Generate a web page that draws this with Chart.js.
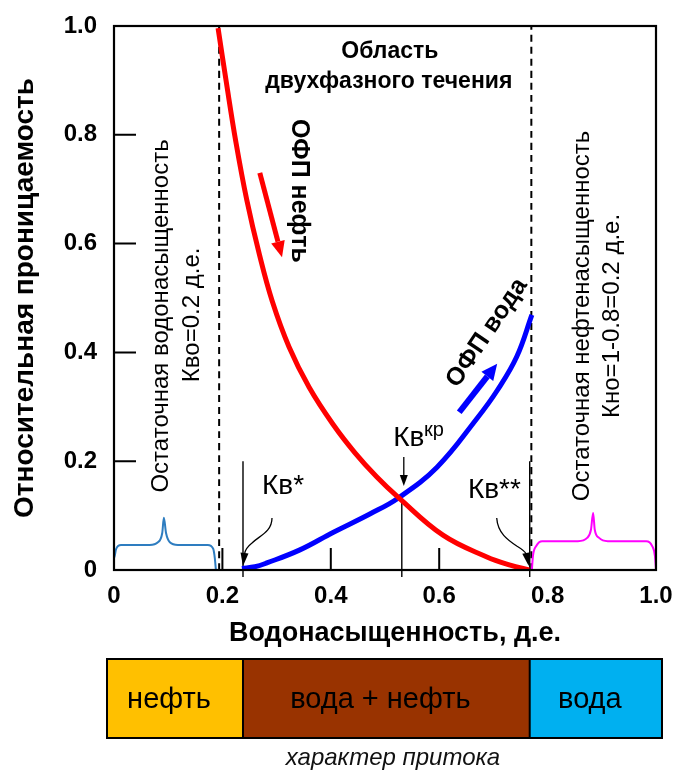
<!DOCTYPE html>
<html>
<head>
<meta charset="utf-8">
<script src="https://cdn.jsdelivr.net/npm/chart.js@4.4.0/dist/chart.umd.min.js"></script>
<style>
  html, body { margin: 0; padding: 0; background: #ffffff; }
  canvas { display: block; }
</style>
</head>
<body>
<canvas id="kr" width="675" height="771"></canvas>
<script>
// Relative permeability of oil (red) vs water saturation, fraction
const oilSw = [0.192, 0.207, 0.225, 0.245, 0.268, 0.292, 0.323, 0.360, 0.404, 0.445, 0.485, 0.524, 0.607, 0.688, 0.731, 0.766];
const oilKr = [0.996, 0.898, 0.786, 0.680, 0.581, 0.494, 0.410, 0.336, 0.268, 0.215, 0.171, 0.134, 0.064, 0.024, 0.009, 0.000];

// Relative permeability of water (blue) vs water saturation, fraction
const waterSw = [0.236, 0.260, 0.282, 0.343, 0.404, 0.472, 0.524, 0.596, 0.670, 0.707, 0.743, 0.771];
const waterKr = [0.003, 0.006, 0.013, 0.037, 0.069, 0.103, 0.132, 0.189, 0.279, 0.330, 0.392, 0.469];

// Curly brace under the irreducible water zone
const swcBraceX = [0.000, 0.000, 0.004, 0.013, 0.066, 0.081, 0.089, 0.092, 0.096, 0.103, 0.118, 0.173, 0.183, 0.186, 0.188];
const swcBraceY = [0.000, 0.022, 0.039, 0.046, 0.046, 0.051, 0.068, 0.096, 0.068, 0.051, 0.046, 0.046, 0.039, 0.022, 0.000];

// Curly brace under the residual oil zone
const sorBraceX = [0.771, 0.773, 0.779, 0.790, 0.856, 0.873, 0.880, 0.884, 0.887, 0.895, 0.911, 0.982, 0.993, 0.998, 1.000];
const sorBraceY = [0.000, 0.026, 0.044, 0.053, 0.053, 0.059, 0.074, 0.105, 0.074, 0.059, 0.053, 0.053, 0.044, 0.026, 0.000];

// Boundaries of the two-phase flow region (dashed verticals)
const twoPhaseBounds = [0.194, 0.770];

// Characteristic saturations: Кв*, Кв кр, Кв**
const markerSw  = [0.238, 0.531, 0.767];
const markerTop = [0.200, 0.125, 0.200];

// Axis tick labels
const tickLabels = ['0', '0.2', '0.4', '0.6', '0.8', '1.0'];

// Inflow character along the saturation range
const inflowNames = ['нефть', 'вода + нефть', 'вода'];

const FF = '"Liberation Sans", Arial, "DejaVu Sans", sans-serif';
const toXY = (xs, ys) => xs.map((x, i) => ({ x, y: ys[i] }));

function drawText(ctx, str, x, y, font, opts = {}) {
  ctx.save();
  ctx.translate(x, y);
  ctx.rotate(opts.rot || 0);
  ctx.font = font;
  ctx.fillStyle = opts.color || '#000';
  ctx.textAlign = opts.align || 'center';
  ctx.textBaseline = opts.baseline || 'middle';
  ctx.fillText(str, 0, 0);
  ctx.restore();
}

function thickArrow(ctx, x0, y0, x1, y1, color, w, headLen, headW) {
  const a = Math.atan2(y1 - y0, x1 - x0);
  const bx = x1 - headLen * Math.cos(a), by = y1 - headLen * Math.sin(a);
  ctx.save();
  ctx.strokeStyle = color; ctx.lineWidth = w; ctx.lineCap = 'butt';
  ctx.beginPath(); ctx.moveTo(x0, y0); ctx.lineTo(bx, by); ctx.stroke();
  ctx.fillStyle = color;
  ctx.beginPath();
  ctx.moveTo(x1, y1);
  ctx.lineTo(bx + headW / 2 * Math.sin(a), by - headW / 2 * Math.cos(a));
  ctx.lineTo(bx - headW / 2 * Math.sin(a), by + headW / 2 * Math.cos(a));
  ctx.closePath(); ctx.fill();
  ctx.restore();
}

function arrowHead(ctx, bx, by, tx, ty, headW) {
  const a = Math.atan2(ty - by, tx - bx);
  ctx.beginPath();
  ctx.moveTo(tx, ty);
  ctx.lineTo(bx + headW / 2 * Math.sin(a), by - headW / 2 * Math.cos(a));
  ctx.lineTo(bx - headW / 2 * Math.sin(a), by + headW / 2 * Math.cos(a));
  ctx.closePath(); ctx.fill();
}

const annotations = {
  id: 'annotations',
  afterDraw(chart) {
    const { ctx, chartArea: ca, scales: { x, y } } = chart;
    const P = (xv, yv) => [x.getPixelForValue(xv), y.getPixelForValue(yv)];

    // Frame
    ctx.save();
    ctx.strokeStyle = '#000'; ctx.lineWidth = 2.2;
    ctx.strokeRect(ca.left, ca.top, ca.right - ca.left, ca.bottom - ca.top);

    // Inward tick marks
    ctx.lineWidth = 2;
    ctx.beginPath();
    [0.2, 0.4, 0.6, 0.8].forEach(v => {
      const py = y.getPixelForValue(v);
      ctx.moveTo(ca.left, py); ctx.lineTo(ca.left + 22, py);
    });
    [0.2, 0.4, 0.6].forEach(v => {
      const px = x.getPixelForValue(v);
      ctx.moveTo(px, ca.bottom); ctx.lineTo(px, ca.bottom - 22);
    });
    ctx.stroke();
    ctx.restore();

    // Region captions
    const bold23 = 'bold 23px ' + FF;
    let p = P(0.509, 0.952); drawText(ctx, 'Область', p[0], p[1], bold23);
    p = P(0.507, 0.897); drawText(ctx, 'двухфазного течения', p[0], p[1], bold23);

    const reg24 = '24px ' + FF;
    p = P(0.087, 0.467); drawText(ctx, 'Остаточная водонасыщенность', p[0], p[1], reg24, { rot: -Math.PI / 2 });
    p = P(0.144, 0.469); drawText(ctx, 'Кво=0.2 д.е.', p[0], p[1], reg24, { rot: -Math.PI / 2 });
    p = P(0.865, 0.467); drawText(ctx, 'Остаточная нефтенасыщенность', p[0], p[1], reg24, { rot: -Math.PI / 2 });
    p = P(0.919, 0.467); drawText(ctx, 'Кно=1-0.8=0.2 д.е.', p[0], p[1], reg24, { rot: -Math.PI / 2 });

    // Curve captions with direction arrows
    const bold25 = 'bold 25px ' + FF;
    p = P(0.342, 0.697); drawText(ctx, 'ОФП нефть', p[0], p[1], bold25, { rot: Math.PI / 2 });
    p = P(0.688, 0.436); drawText(ctx, 'ОФП вода', p[0], p[1], bold25, { rot: -56 * Math.PI / 180 });
    let a = P(0.269, 0.730), b = P(0.310, 0.575);
    thickArrow(ctx, a[0], a[1], b[0], b[1], '#ff0000', 5, 16, 14);
    a = P(0.637, 0.290); b = P(0.707, 0.379);
    thickArrow(ctx, a[0], a[1], b[0], b[1], '#0000ff', 6, 16, 15);

    // Characteristic saturation labels
    const reg28 = '28px ' + FF;
    p = P(0.273, 0.153); drawText(ctx, 'Кв*', p[0], p[1], reg28, { align: 'left' });
    p = P(0.515, 0.243); drawText(ctx, 'Кв', p[0], p[1], reg28, { align: 'left' });
    p = P(0.572, 0.257); drawText(ctx, 'кр', p[0], p[1], '20px ' + FF, { align: 'left' });
    p = P(0.653, 0.147); drawText(ctx, 'Кв**', p[0], p[1], reg28, { align: 'left' });

    // Pointer arrows to the characteristic saturations
    const by = ca.bottom;
    ctx.save();
    ctx.strokeStyle = '#000'; ctx.fillStyle = '#000'; ctx.lineWidth = 1.3;
    let mx = x.getPixelForValue(markerSw[0]);
    ctx.beginPath();
    ctx.moveTo(mx + 29, by - 52);
    ctx.bezierCurveTo(mx + 29, by - 38, mx + 16, by - 34, mx + 9, by - 27);
    ctx.bezierCurveTo(mx + 4, by - 23, mx + 2, by - 20, mx + 1.5, by - 16);
    ctx.stroke();
    arrowHead(ctx, mx + 1.5, by - 17, mx, by - 4, 8);

    mx = x.getPixelForValue(markerSw[2]);
    ctx.beginPath();
    ctx.moveTo(mx - 33, by - 52);
    ctx.bezierCurveTo(mx - 32, by - 37, mx - 22, by - 30, mx - 13, by - 24);
    ctx.bezierCurveTo(mx - 8, by - 21, mx - 5, by - 19, mx - 3.5, by - 16);
    ctx.stroke();
    arrowHead(ctx, mx - 3.5, by - 17, mx - 1, by - 4, 8);

    mx = x.getPixelForValue(markerSw[1]);
    ctx.beginPath();
    ctx.moveTo(mx + 2, by - 113); ctx.lineTo(mx + 2, by - 94);
    ctx.stroke();
    arrowHead(ctx, mx + 2, by - 95, mx + 2, by - 84, 8);
    ctx.restore();

    // X axis title
    drawText(ctx, 'Водонасыщенность, д.е.', 395, 634, 'bold 27px ' + FF);

    // Inflow character bar
    const barL = ca.left - 7, barR = ca.right + 6, barT = 659, barB = 738;
    const edges = [barL, x.getPixelForValue(markerSw[0]), x.getPixelForValue(markerSw[2]), barR];
    const fills = ['#ffc000', '#993300', '#00b0f0'];
    ctx.save();
    for (let i = 0; i < 3; i++) {
      ctx.fillStyle = fills[i];
      ctx.fillRect(edges[i], barT, edges[i + 1] - edges[i], barB - barT);
    }
    ctx.strokeStyle = '#000'; ctx.lineWidth = 2;
    ctx.strokeRect(barL, barT, barR - barL, barB - barT);
    ctx.beginPath();
    ctx.moveTo(edges[1], barT); ctx.lineTo(edges[1], barB);
    ctx.moveTo(edges[2], barT); ctx.lineTo(edges[2], barB);
    ctx.stroke();
    ctx.restore();
    for (let i = 0; i < 3; i++) {
      drawText(ctx, inflowNames[i], (edges[i] + edges[i + 1]) / 2 - 6, 700, '29px ' + FF);
    }
    drawText(ctx, 'характер притока', 393, 758, 'italic 24px ' + FF, { color: '#111' });
  }
};

const lineDs = (data, color, width, extra = {}) => Object.assign({
  data, borderColor: color, borderWidth: width, pointRadius: 0, fill: false,
  cubicInterpolationMode: 'monotone'
}, extra);

// Smooth bezier for the permeability curves
const smooth = { cubicInterpolationMode: 'default', tension: 0.4 };

const datasets = [
  lineDs(toXY(oilSw, oilKr), '#ff0000', 5, smooth),
  lineDs(toXY(waterSw, waterKr), '#0000ff', 5, smooth),
  lineDs(toXY(swcBraceX, swcBraceY), '#2e7dc0', 2),
  lineDs(toXY(sorBraceX, sorBraceY), '#ff00ff', 2),
  ...twoPhaseBounds.map(s => lineDs([{ x: s, y: 0 }, { x: s, y: 1.0 }], '#000', 2, { borderDash: [7, 5], clip: false })),
  ...markerSw.map((s, i) => lineDs([{ x: s, y: -0.013 }, { x: s, y: markerTop[i] }], '#000', 1.4, { clip: false }))
];

const tickFont = { family: FF, size: 24, weight: 'bold' };
const noPad = s => { s.paddingLeft = 0; s.paddingRight = 0; s.paddingTop = 0; s.paddingBottom = 0; };

new Chart(document.getElementById('kr'), {
  type: 'line',
  data: { datasets },
  options: {
    responsive: false,
    animation: false,
    devicePixelRatio: 1,
    layout: { padding: { top: 26, right: 19, left: 0, bottom: 121 } },
    plugins: { legend: { display: false }, tooltip: { enabled: false } },
    scales: {
      x: {
        type: 'linear', min: 0, max: 1,
        grid: { display: false, drawTicks: false },
        border: { display: false },
        ticks: { stepSize: 0.2, padding: 12, color: '#000', font: tickFont, maxRotation: 0,
                 callback: v => tickLabels[Math.round(v * 5)] },
        afterFit: s => { s.height = 80; noPad(s); }
      },
      y: {
        type: 'linear', min: 0, max: 1,
        grid: { display: false, drawTicks: false },
        border: { display: false },
        ticks: { stepSize: 0.2, padding: 17, color: '#000', font: tickFont,
                 callback: v => tickLabels[Math.round(v * 5)] },
        title: { display: true, text: 'Относительная проницаемость', color: '#000',
                 font: { family: FF, size: 28, weight: 'bold' }, padding: { top: 8, bottom: 0 } },
        afterFit: s => { s.width = 114; noPad(s); }
      }
    }
  },
  plugins: [annotations]
});
</script>
</body>
</html>
